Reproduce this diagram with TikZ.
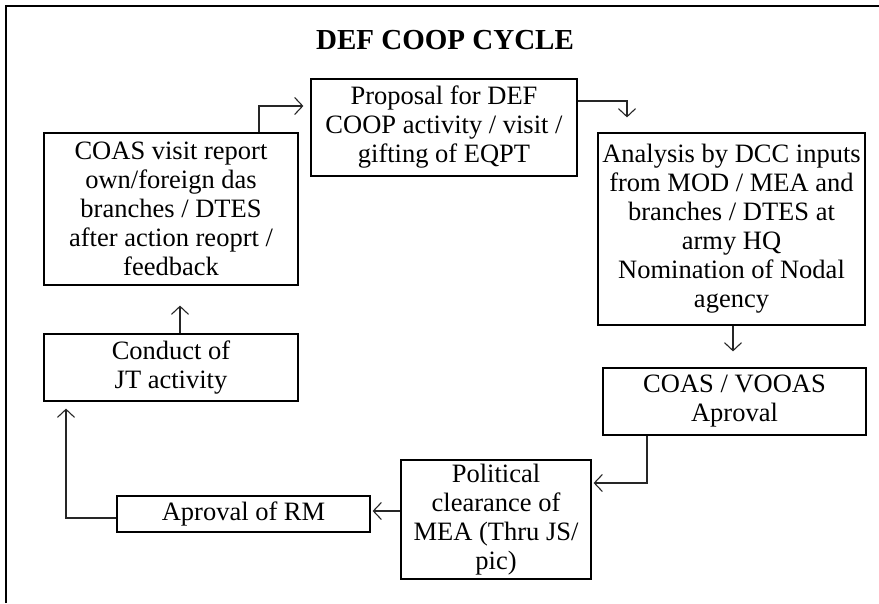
\documentclass[tikz,border=0pt]{standalone}
\usepackage{fontspec}
\setmainfont{Liberation Serif}
\usetikzlibrary{arrows.meta}
\begin{document}
\begin{tikzpicture}[x=1pt,y=-1pt,
  box/.style={draw=black,line width=1.2pt,align=center,inner sep=1pt,
    font=\fontsize{26.5}{29}\selectfont},
  arr/.style={draw=black!85,line width=1.2pt,-{Straight Barb[length=8pt,width=17pt,line width=1.1pt]}},
  frame/.style={draw=black,line width=1.8pt}]
\useasboundingbox (0,0) rectangle (879,603);
\draw[frame] (6,603) -- (6,6) -- (879,6);
\node[font=\fontsize{29}{32}\selectfont\bfseries] (title) at (445,40) {DEF COOP CYCLE};
\node[box,minimum width=254pt,minimum height=152pt] (coas) at (171,209)
  {COAS visit report\\own/foreign das\\branches / DTES\\after action reoprt /\\feedback};
\node[box,minimum width=266pt,minimum height=97pt] (proposal) at (444,127.5)
  {Proposal for DEF\\COOP activity / visit /\\gifting of EQPT};
\node[box,minimum width=267pt,minimum height=192pt,inner sep=0.5pt] (analysis) at (731.5,229)
  {Analysis by DCC inputs\\from MOD / MEA and\\branches / DTES at\\army HQ\\Nomination of Nodal\\agency};
\node[box,minimum width=263pt,minimum height=67pt] (coasv) at (734.5,401.5)
  {COAS / VOOAS\\Aproval};
\node[box,minimum width=190pt,minimum height=119pt] (political) at (496,519.5)
  {Political\\clearance of\\MEA (Thru JS/\\pic)};
\node[box,minimum width=253pt,minimum height=36pt,inner sep=0pt] (rm) at (243.5,514)
  {Aproval of RM};
\node[box,minimum width=254pt,minimum height=67pt] (conduct) at (171,367.5)
  {Conduct of\\JT activity};
% connectors
\draw[arr,shorten >=20pt] ([xshift=9pt]conduct.north) -- ([xshift=9pt]conduct.north |- coas.south);
\draw[arr,shorten >=7pt] ([xshift=88pt]coas.north) |- ([yshift=21.5pt]proposal.west);
\draw[arr,shorten >=15pt] ([yshift=26.5pt]proposal.east) -| ([xshift=-104.5pt]analysis.north);
\draw[arr,shorten >=16pt] ([xshift=1.5pt]analysis.south) -- ([xshift=1.5pt]analysis.south |- coasv.north);
\draw[arr,shorten >=2pt] ([xshift=-87.5pt]coasv.south) |- ([yshift=36.5pt]political.east);
\draw[arr,shorten >=2pt] ([yshift=8.5pt]political.west) -- ([yshift=8.5pt]political.west -| rm.east);
\draw[arr,shorten >=7pt] ([yshift=-4pt]rm.west) -| ([xshift=-105pt]conduct.south);
\end{tikzpicture}
\end{document}
